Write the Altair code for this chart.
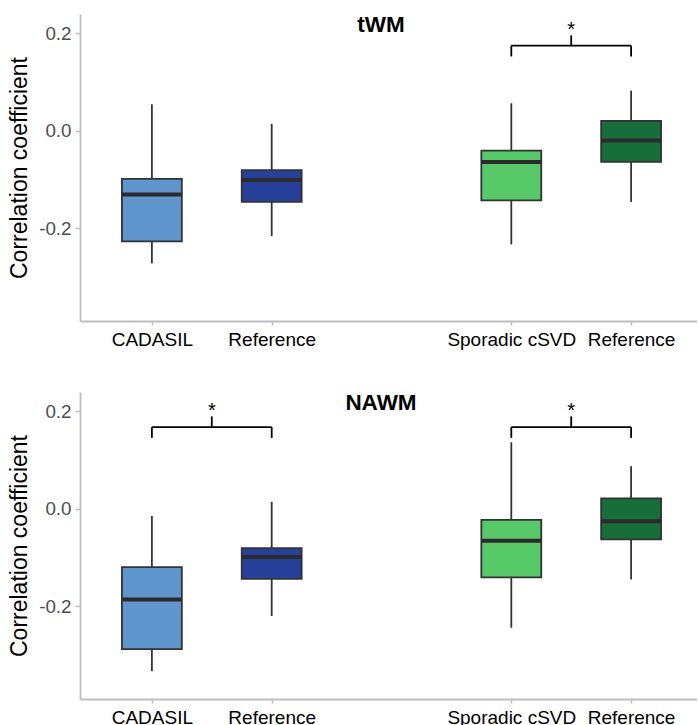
import altair as alt
import pandas as pd

# ---------------- data ----------------
group_labels = ["CADASIL", "Reference", "Sporadic cSVD", "Reference"]
group_keys = ["cadasil", "ref_cadasil", "scsvd", "ref_scsvd"]
group_slot = [1, 2, 4, 5]          # category slot on the x axis (slot 3 is an empty gap)

twm_low = [-0.272, -0.216, -0.233, -0.146]
twm_q1 = [-0.227, -0.146, -0.143, -0.064]
twm_med = [-0.131, -0.101, -0.064, -0.020]
twm_q3 = [-0.099, -0.081, -0.041, 0.020]
twm_high = [0.054, 0.014, 0.056, 0.082]

nawm_low = [-0.333, -0.220, -0.244, -0.145]
nawm_q1 = [-0.288, -0.144, -0.141, -0.063]
nawm_med = [-0.186, -0.099, -0.066, -0.026]
nawm_q3 = [-0.120, -0.081, -0.023, 0.021]
nawm_high = [-0.015, 0.014, 0.136, 0.087]

# significance brackets: from slot, to slot, bar level, end level, tip level
twm_br_from = [4]
twm_br_to = [5]
twm_br_level = [0.174]
twm_br_end = [0.152]
twm_br_tip = [0.195]

nawm_br_from = [1, 4]
nawm_br_to = [2, 5]
nawm_br_level = [0.167, 0.167]
nawm_br_end = [0.145, 0.145]
nawm_br_tip = [0.189, 0.189]

y_ticks = [-0.2, 0.0, 0.2]

# ---------------- style ----------------
fill_colors = ["#6195CD", "#27409A", "#58C968", "#186E3A"]
FONT = "Liberation Sans"
W, H = 617, 307
BOX_HALF = 0.25
X_DOMAIN = [0.4, 5.55]
Y_DOMAIN = [-0.39, 0.239]

label_expr = " : ".join(
    f"datum.value == {s} ? '{l}'" for s, l in zip(group_slot, group_labels)
) + " : ''"

x_scale = alt.Scale(domain=X_DOMAIN, nice=False, zero=False)
y_scale = alt.Scale(domain=Y_DOMAIN, nice=False, zero=False)
x_axis = alt.Axis(values=group_slot, labelExpr=label_expr, title=None, grid=False,
                  labelColor="#000000", labelFontSize=19, labelPadding=5, tickSize=4)
y_axis = alt.Axis(values=y_ticks, title="Correlation coefficient", grid=False,
                  labelExpr="datum.value < -0.0001 ? '-' + format(-datum.value, '.1f') : format(abs(datum.value), '.1f')",
                  labelColor="#4D4D4D", labelFontSize=18.8, labelPadding=4, tickSize=5,
                  titleFontSize=23, titleColor="#000000", titleFontWeight="normal",
                  titlePadding=7)


def panel(name, low, q1, med, q3, high, bfrom, bto, blevel, bend, btip):
    df = pd.DataFrame({"key": group_keys, "x": group_slot, "low": low, "q1": q1,
                       "med": med, "q3": q3, "high": high})
    base = alt.Chart(df).transform_calculate(
        xl=f"datum.x - {BOX_HALF}", xr=f"datum.x + {BOX_HALF}")

    X = lambda f: alt.X(f, type="quantitative", scale=x_scale, axis=x_axis)
    Y = lambda f: alt.Y(f, type="quantitative", scale=y_scale, axis=y_axis)

    whisk_lo = base.mark_rule(color="#333333", strokeWidth=1.8).encode(
        x=X("x"), y=Y("low"), y2="q1")
    whisk_hi = base.mark_rule(color="#333333", strokeWidth=1.8).encode(
        x=X("x"), y=Y("q3"), y2="high")
    box = base.mark_bar(stroke="#333333", strokeWidth=1.8).encode(
        x=X("xl"), x2="xr", y=Y("q1"), y2="q3",
        color=alt.Color("key:N", scale=alt.Scale(domain=group_keys, range=fill_colors),
                        legend=None))
    median = base.mark_rule(color="#2B2B2B", strokeWidth=4).encode(
        x=X("xl"), x2="xr", y=Y("med"))

    bdf = pd.DataFrame({"a": bfrom, "b": bto, "lev": blevel, "end": bend, "tip": btip})
    bbase = alt.Chart(bdf).transform_calculate(mid="(datum.a + datum.b) / 2")
    br_h = bbase.mark_rule(color="#000000", strokeWidth=1.8).encode(
        x=X("a"), x2="b", y=Y("lev"))
    br_l = bbase.mark_rule(color="#000000", strokeWidth=1.8).encode(
        x=X("a"), y=Y("end"), y2="lev")
    br_r = bbase.mark_rule(color="#000000", strokeWidth=1.8).encode(
        x=X("b"), y=Y("end"), y2="lev")
    br_t = bbase.mark_rule(color="#000000", strokeWidth=1.8).encode(
        x=X("mid"), y=Y("lev"), y2="tip")
    star = bbase.mark_text(text="*", fontSize=20, font=FONT, color="#000000",
                           baseline="alphabetic", dy=1).encode(
        x=X("mid"), y=Y("tip"))

    title = alt.Chart(pd.DataFrame({"t": [name]})).mark_text(
        fontSize=22.5, fontWeight="bold", font=FONT, color="#000000",
        align="center", baseline="alphabetic").encode(
        x=alt.value(301), y=alt.value(18), text="t:N")

    return alt.layer(whisk_lo, whisk_hi, box, median, br_h, br_l, br_r, br_t, star,
                     title).properties(width=W, height=H)


top = panel("tWM", twm_low, twm_q1, twm_med, twm_q3, twm_high,
            twm_br_from, twm_br_to, twm_br_level, twm_br_end, twm_br_tip)
bottom = panel("NAWM", nawm_low, nawm_q1, nawm_med, nawm_q3, nawm_high,
               nawm_br_from, nawm_br_to, nawm_br_level, nawm_br_end, nawm_br_tip)

chart = alt.vconcat(top, bottom, spacing=43).properties(
    padding={"left": 8, "top": 14, "right": 0, "bottom": 0},
    background="#FFFFFF"
).configure_view(strokeWidth=0, strokeOpacity=0).configure_axis(
    labelFont=FONT, titleFont=FONT, domainColor="#BEBEBE", domainWidth=1.8,
    tickColor="#BEBEBE", tickWidth=1.5
)

chart.save("out.html", embed_options={"renderer": "svg", "actions": False})
